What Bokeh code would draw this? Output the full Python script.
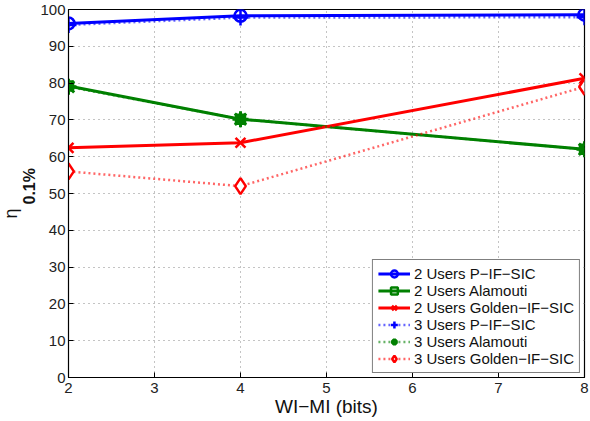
from bokeh.plotting import figure
from bokeh.models import Legend, LegendItem, Title, FixedTicker
from bokeh.embed import file_html
from bokeh.resources import INLINE

x_bits = [2, 4, 8]
u2_pifsic = [96.2, 98.3, 98.6]
u2_alamouti = [79.2, 70.2, 62.0]
u2_golden = [62.4, 63.8, 81.3]
u3_pifsic = [95.8, 97.8, 97.9]
u3_alamouti = [79.0, 70.2, 62.0]
u3_golden = [56.0, 52.0, 79.0]
x_ticks = [2, 3, 4, 5, 6, 7, 8]
y_ticks = [0, 10, 20, 30, 40, 50, 60, 70, 80, 90, 100]
labels = ["2 Users P\u2212IF\u2212SIC", "2 Users Alamouti", "2 Users Golden\u2212IF\u2212SIC",
          "3 Users P\u2212IF\u2212SIC", "3 Users Alamouti", "3 Users Golden\u2212IF\u2212SIC"]

FONT = "Liberation Sans"
BLUE = "#0000ff"
GREEN = "#008000"
RED = "#ff0000"

p = figure(width=590, height=421, x_range=(2, 8), y_range=(0, 100),
           output_backend="svg", toolbar_location=None,
           min_border_left=66, min_border_right=6, min_border_top=9, min_border_bottom=44)
p.outline_line_color = "black"
p.outline_line_width = 1.2
p.background_fill_color = "white"
p.border_fill_color = "white"

for ax in (p.xaxis[0], p.yaxis[0]):
    ax.major_tick_in = 5
    ax.major_tick_out = 0
    ax.minor_tick_in = 0
    ax.minor_tick_out = 0
    ax.axis_line_color = "black"
    ax.major_tick_line_color = "black"
    ax.major_label_text_font = FONT
    ax.major_label_text_font_size = "15px"
    ax.major_label_text_color = "#222222"

p.xaxis.ticker = FixedTicker(ticks=x_ticks)
p.yaxis.ticker = FixedTicker(ticks=y_ticks)
p.xaxis.major_label_standoff = 5
p.yaxis.major_label_standoff = 3
p.xaxis.axis_label = "WI\u2212MI (bits)"
p.xaxis.axis_label_text_font = FONT
p.xaxis.axis_label_text_font_size = "19px"
p.xaxis.axis_label_text_font_style = "normal"
p.xaxis.axis_label_text_color = "#111111"
p.xaxis.axis_label_standoff = 0

p.xgrid.grid_line_color = "#888888"
p.ygrid.grid_line_color = "#888888"
p.xgrid.grid_line_dash = "1 4"
p.ygrid.grid_line_dash = "1 4"
p.xgrid.grid_line_width = 1
p.ygrid.grid_line_width = 1

items = []
# 2 users
l1 = p.line(x_bits, u2_pifsic, line_color=BLUE, line_width=3)
m1 = p.scatter(x_bits, u2_pifsic, marker="circle", size=12, line_color=BLUE, line_width=2.5, fill_color=None)
items.append(LegendItem(label=labels[0], renderers=[l1, m1]))
l2 = p.line(x_bits, u2_alamouti, line_color=GREEN, line_width=3)
m2 = p.scatter(x_bits, u2_alamouti, marker="square", size=9, line_color=GREEN, line_width=2.5, fill_color=None)
items.append(LegendItem(label=labels[1], renderers=[l2, m2]))
l3 = p.line(x_bits, u2_golden, line_color=RED, line_width=3)
m3 = p.scatter(x_bits, u2_golden, marker="x", size=14, line_color=RED, line_width=2.5)
items.append(LegendItem(label=labels[2], renderers=[l3, m3]))
# 3 users
l4 = p.line(x_bits, u3_pifsic, line_color=BLUE, line_width=2.5, line_dash="2 3", line_alpha=0.6)
m4 = p.scatter(x_bits, u3_pifsic, marker="cross", size=16, line_color=BLUE, line_width=2.5)
items.append(LegendItem(label=labels[3], renderers=[l4, m4]))
l5 = p.line(x_bits, u3_alamouti, line_color=GREEN, line_width=2.5, line_dash="2 3", line_alpha=0.6)
m5 = p.scatter(x_bits, u3_alamouti, marker="asterisk", size=16, line_color=GREEN, line_width=3)
items.append(LegendItem(label=labels[4], renderers=[l5, m5]))
l6 = p.line(x_bits, u3_golden, line_color=RED, line_width=2.5, line_dash="2 3", line_alpha=0.6)
m6 = p.scatter(x_bits, u3_golden, marker="diamond", size=16, line_color=RED, line_width=2.5, fill_color="white")
items.append(LegendItem(label=labels[5], renderers=[l6, m6]))

legend = Legend(items=items, location="bottom_right")
legend.label_text_font = FONT
legend.label_text_font_size = "15px"
legend.label_text_color = "#111111"
legend.label_standoff = 4
legend.label_height = 17
legend.glyph_width = 32
legend.glyph_height = 17
legend.spacing = 0
legend.padding = 5
legend.margin = 4
legend.border_line_color = "black"
legend.border_line_width = 1.2
legend.background_fill_color = "white"
legend.background_fill_alpha = 1.0
p.add_layout(legend)

# y-axis label: eta with subscript 0.1%, as two titles on the left side
sub = Title(text="0.1%", align="left", offset=173, standoff=0,
            text_font=FONT, text_font_size="16px", text_font_style="bold", text_color="#111111")
eta = Title(text="\u03b7", align="left", offset=159, standoff=-4,
            text_font=FONT, text_font_size="18px", text_font_style="normal", text_color="#111111")
p.add_layout(sub, "left")
p.add_layout(eta, "left")

open("out.html", "w").write(file_html(p, INLINE))
